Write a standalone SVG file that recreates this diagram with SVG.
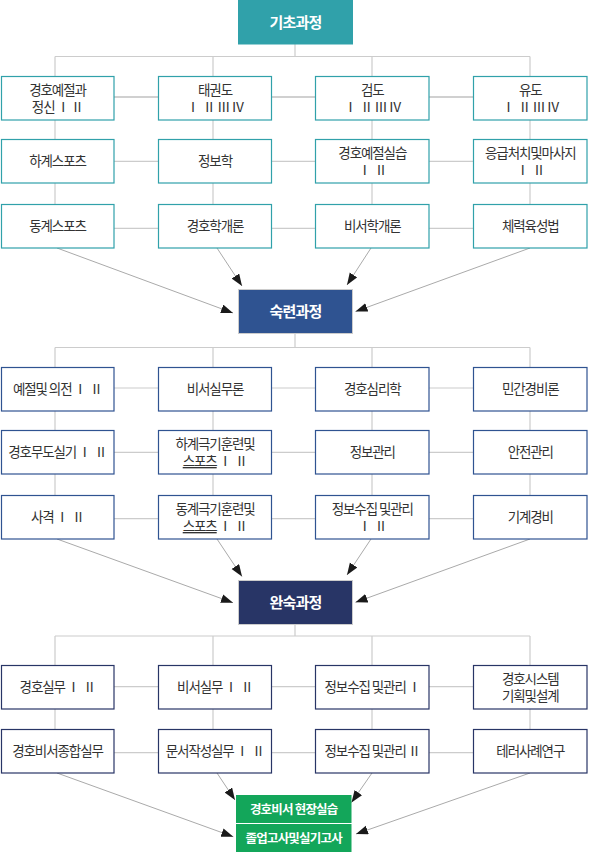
<svg xmlns="http://www.w3.org/2000/svg" width="589" height="852" viewBox="0 0 589 852">
<defs>
<style>
.ln{stroke:#cccccc;stroke-width:1.2;fill:none}
.ln2{stroke:#d0d0d0;stroke-width:2;fill:none}
.ar{stroke:#aaaaaa;stroke-width:1;fill:none;marker-end:url(#ah)}
.b1{fill:#fff;stroke:#30A1AA;stroke-width:1.2}
.b2{fill:#fff;stroke:#2F5391;stroke-width:1.2}
.b3{fill:#fff;stroke:#283566;stroke-width:1.2}
.t{font-family:"Noto Sans CJK KR","Noto Sans",sans-serif;font-size:13.5px;fill:#333;text-anchor:middle;letter-spacing:-1.1px}
.h{font-family:"Noto Sans CJK KR","Noto Sans",sans-serif;font-size:15px;font-weight:bold;fill:#fff;text-anchor:middle;letter-spacing:-0.8px}
.g{font-family:"Noto Sans CJK KR","Noto Sans",sans-serif;font-size:12.5px;font-weight:bold;fill:#fff;text-anchor:middle;letter-spacing:-0.8px}
</style>
<marker id="ah" markerUnits="userSpaceOnUse" markerWidth="13" markerHeight="10" refX="12" refY="4.5" orient="auto">
<path d="M0,0 L12,4.5 L0,9 z" fill="#1a1a1a"/>
</marker>
</defs>

<g id="connectors">
<path class="ln" d="M295,44 V56.5 M55,56.5 H530 M55,56.5 V76 M213,56.5 V76 M372,56.5 V76 M530,56.5 V76"/>
<path class="ln2" d="M114,97 H473"/>
<path class="ln" d="M114,161.3 H473 M114,228.3 H473"/>
<path class="ln" d="M55,120 V139 M55,183 V204 M213,120 V139 M213,183 V204 M372,120 V139 M372,183 V204 M530,120 V139 M530,183 V204"/>
<path class="ar" d="M57,248 L233,313"/>
<path class="ar" d="M217,248 L242,286"/>
<path class="ar" d="M371,248 L347,285"/>
<path class="ar" d="M530,248 L355.5,311.5"/>
<path class="ln" d="M295,333 V347.5 M55,347.5 H530 M55,347.5 V367 M213,347.5 V367 M372,347.5 V367 M530,347.5 V367"/>
<path class="ln" d="M114,388 H473 M114,452.3 H473 M114,518.7 H473"/>
<path class="ln" d="M55,411 V430 M55,474 V495 M213,411 V430 M213,474 V495 M372,411 V430 M372,474 V495 M530,411 V430 M530,474 V495"/>
<path class="ar" d="M57,539 L233,602.7"/>
<path class="ar" d="M217,539 L242,576.5"/>
<path class="ar" d="M371,539 L347,575"/>
<path class="ar" d="M530,539 L355.5,602.3"/>
<path class="ln" d="M295,624.5 V636 M55,636 H530 M55,636 V665.5 M213,636 V665.5 M372,636 V665.5 M530,636 V665.5"/>
<path class="ln" d="M114,686.7 H473 M114,752.7 H473"/>
<path class="ln" d="M55,709 V729 M213,709 V729 M372,709 V729 M530,709 V729"/>
<path class="ar" d="M57,773 L233.3,836.7"/>
<path class="ar" d="M217,773 L235,800"/>
<path class="ar" d="M372,773 L351.5,802.5"/>
<path class="ar" d="M530,773 L356,834"/>
</g>

<g id="n-basic"><rect x="238" y="0" width="115" height="44.5" fill="#30A1AA"/><text class="h" x="295.5" y="27.5">기초과정</text></g>
<g id="n-skilled"><rect x="238.5" y="289.5" width="114" height="44" fill="#2F5391" stroke="#cccccc" stroke-width="1"/><text class="h" x="295.5" y="317">숙련과정</text></g>
<g id="n-master"><rect x="238.5" y="580.5" width="114" height="44" fill="#283566" stroke="#cccccc" stroke-width="1"/><text class="h" x="295.5" y="608">완숙과정</text></g>
<g id="n-field"><rect x="236" y="795" width="115.5" height="28" fill="#13A65A"/><text class="g" x="293.7" y="813.5">경호비서 현장실습</text></g>
<g id="n-exam"><rect x="236" y="824" width="115.5" height="28" fill="#13A65A"/><text class="g" x="293.7" y="842.5">졸업고사및실기고사</text></g>

<g id="n1-1"><rect class="b1" x="1.5" y="76.5" width="112.5" height="43.5"/><text class="t" x="57.5" y="95">경호예절과</text><text class="t" x="57.5" y="112" xml:space="preserve">정신 Ⅰ Ⅱ</text></g>
<g id="n1-2"><rect class="b1" x="158.5" y="76.5" width="113" height="43.5"/><text class="t" x="215" y="95">태권도</text><text class="t" x="215" y="112" xml:space="preserve">Ⅰ  Ⅱ Ⅲ Ⅳ</text></g>
<g id="n1-3"><rect class="b1" x="315.5" y="76.5" width="113.5" height="43.5"/><text class="t" x="372.3" y="95">검도</text><text class="t" x="372.3" y="112" xml:space="preserve">Ⅰ  Ⅱ Ⅲ Ⅳ</text></g>
<g id="n1-4"><rect class="b1" x="473.5" y="76.5" width="113.5" height="43.5"/><text class="t" x="530.3" y="95">유도</text><text class="t" x="530.3" y="112" xml:space="preserve">Ⅰ  Ⅱ Ⅲ Ⅳ</text></g>

<g id="n2-1"><rect class="b1" x="1.5" y="139.5" width="112.5" height="43.5"/><text class="t" x="57.5" y="166">하계스포츠</text></g>
<g id="n2-2"><rect class="b1" x="158.5" y="139.5" width="113" height="43.5"/><text class="t" x="215" y="166">정보학</text></g>
<g id="n2-3"><rect class="b1" x="315.5" y="139.5" width="113.5" height="43.5"/><text class="t" x="372.3" y="158">경호예절실습</text><text class="t" x="372.3" y="175" xml:space="preserve">Ⅰ  Ⅱ</text></g>
<g id="n2-4"><rect class="b1" x="473.5" y="139.5" width="113.5" height="43.5"/><text class="t" x="530.3" y="158">응급처치및마사지</text><text class="t" x="530.3" y="175" xml:space="preserve">Ⅰ  Ⅱ</text></g>

<g id="n3-1"><rect class="b1" x="1.5" y="204.5" width="112.5" height="43.5"/><text class="t" x="57.5" y="231">동계스포츠</text></g>
<g id="n3-2"><rect class="b1" x="158.5" y="204.5" width="113" height="43.5"/><text class="t" x="215" y="231">경호학개론</text></g>
<g id="n3-3"><rect class="b1" x="315.5" y="204.5" width="113.5" height="43.5"/><text class="t" x="372.3" y="231">비서학개론</text></g>
<g id="n3-4"><rect class="b1" x="473.5" y="204.5" width="113.5" height="43.5"/><text class="t" x="530.3" y="231">체력육성법</text></g>

<g id="n4-1"><rect class="b2" x="1.5" y="367.5" width="112.5" height="43.5"/><text class="t" x="57.5" y="394" xml:space="preserve">예절및 의전 Ⅰ  Ⅱ</text></g>
<g id="n4-2"><rect class="b2" x="158.5" y="367.5" width="113" height="43.5"/><text class="t" x="215" y="394">비서실무론</text></g>
<g id="n4-3"><rect class="b2" x="315.5" y="367.5" width="113.5" height="43.5"/><text class="t" x="372.3" y="394">경호심리학</text></g>
<g id="n4-4"><rect class="b2" x="473.5" y="367.5" width="113.5" height="43.5"/><text class="t" x="530.3" y="394">민간경비론</text></g>

<g id="n5-1"><rect class="b2" x="1.5" y="430.5" width="112.5" height="43.5"/><text class="t" x="57.5" y="457" xml:space="preserve">경호무도실기 Ⅰ  Ⅱ</text></g>
<g id="n5-2"><rect class="b2" x="158.5" y="430.5" width="113" height="43.5"/><text class="t" x="215" y="449">하계극기훈련및</text><text class="t" x="215" y="466" xml:space="preserve"><tspan text-decoration="underline">스포츠</tspan> Ⅰ  Ⅱ</text></g>
<g id="n5-3"><rect class="b2" x="315.5" y="430.5" width="113.5" height="43.5"/><text class="t" x="372.3" y="457">정보관리</text></g>
<g id="n5-4"><rect class="b2" x="473.5" y="430.5" width="113.5" height="43.5"/><text class="t" x="530.3" y="457">안전관리</text></g>

<g id="n6-1"><rect class="b2" x="1.5" y="495.5" width="112.5" height="43.5"/><text class="t" x="57.5" y="522" xml:space="preserve">사격 Ⅰ  Ⅱ</text></g>
<g id="n6-2"><rect class="b2" x="158.5" y="495.5" width="113" height="43.5"/><text class="t" x="215" y="514">동계극기훈련및</text><text class="t" x="215" y="531" xml:space="preserve"><tspan text-decoration="underline">스포츠</tspan> Ⅰ  Ⅱ</text></g>
<g id="n6-3"><rect class="b2" x="315.5" y="495.5" width="113.5" height="43.5"/><text class="t" x="372.3" y="514">정보수집 및관리</text><text class="t" x="372.3" y="531" xml:space="preserve">Ⅰ  Ⅱ</text></g>
<g id="n6-4"><rect class="b2" x="473.5" y="495.5" width="113.5" height="43.5"/><text class="t" x="530.3" y="522">기계경비</text></g>

<g id="n7-1"><rect class="b3" x="1.5" y="665.5" width="112.5" height="43.5"/><text class="t" x="57.5" y="692" xml:space="preserve">경호실무 Ⅰ  Ⅱ</text></g>
<g id="n7-2"><rect class="b3" x="158.5" y="665.5" width="113" height="43.5"/><text class="t" x="215" y="692" xml:space="preserve">비서실무 Ⅰ  Ⅱ</text></g>
<g id="n7-3"><rect class="b3" x="315.5" y="665.5" width="113.5" height="43.5"/><text class="t" x="372.3" y="692">정보수집 및관리 Ⅰ</text></g>
<g id="n7-4"><rect class="b3" x="473.5" y="665.5" width="113.5" height="43.5"/><text class="t" x="530.3" y="684">경호시스템</text><text class="t" x="530.3" y="701">기획및설계</text></g>

<g id="n8-1"><rect class="b3" x="1.5" y="729.5" width="112.5" height="43.5"/><text class="t" x="57.5" y="756">경호비서종합실무</text></g>
<g id="n8-2"><rect class="b3" x="158.5" y="729.5" width="113" height="43.5"/><text class="t" x="215" y="756" xml:space="preserve">문서작성실무 Ⅰ  Ⅱ</text></g>
<g id="n8-3"><rect class="b3" x="315.5" y="729.5" width="113.5" height="43.5"/><text class="t" x="372.3" y="756">정보수집 및관리 Ⅱ</text></g>
<g id="n8-4"><rect class="b3" x="473.5" y="729.5" width="113.5" height="43.5"/><text class="t" x="530.3" y="756">테러사례연구</text></g>
</svg>
